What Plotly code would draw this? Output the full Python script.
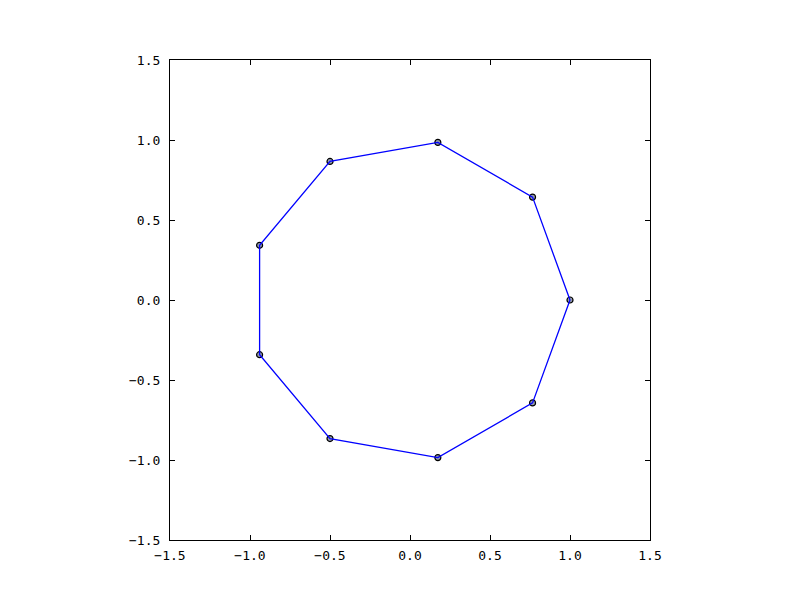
import plotly.graph_objects as go

x_vals = [1.0, 0.766, 0.174, -0.5, -0.94, -0.94, -0.5, 0.174, 0.766, 1.0]
y_vals = [0.0, 0.643, 0.985, 0.866, 0.342, -0.342, -0.866, -0.985, -0.643, 0.0]
tick_vals = [-1.5, -1.0, -0.5, 0.0, 0.5, 1.0, 1.5]
tick_text = ["\u22121.5", "\u22121.0", "\u22120.5", "0.0", "0.5", "1.0", "1.5"]

fig = go.Figure()
fig.add_trace(go.Scatter(
    x=x_vals[:-1], y=y_vals[:-1], mode="markers",
    marker=dict(size=6, color="rgba(120,130,150,0.8)", line=dict(color="black", width=1.2)),
    hoverinfo="skip", showlegend=False))
fig.add_trace(go.Scatter(
    x=x_vals, y=y_vals, mode="lines",
    line=dict(color="blue", width=1.3), showlegend=False))

axis_common = dict(
    range=[-1.5, 1.5], tickvals=tick_vals, ticktext=tick_text,
    ticks="inside", ticklen=5, tickwidth=1, tickcolor="black",
    showline=True, linecolor="black", linewidth=1.2, mirror="ticks",
    showgrid=False, zeroline=False,
    tickfont=dict(family="DejaVu Sans Mono", size=13, color="black"),
)
fig.update_layout(
    width=800, height=600,
    margin=dict(l=162, r=158, t=52, b=68),
    paper_bgcolor="white", plot_bgcolor="white",
    xaxis=dict(**axis_common, ticklabelstandoff=3),
    yaxis=dict(**axis_common, ticklabelstandoff=6),
)
fig.write_html("out.html")
